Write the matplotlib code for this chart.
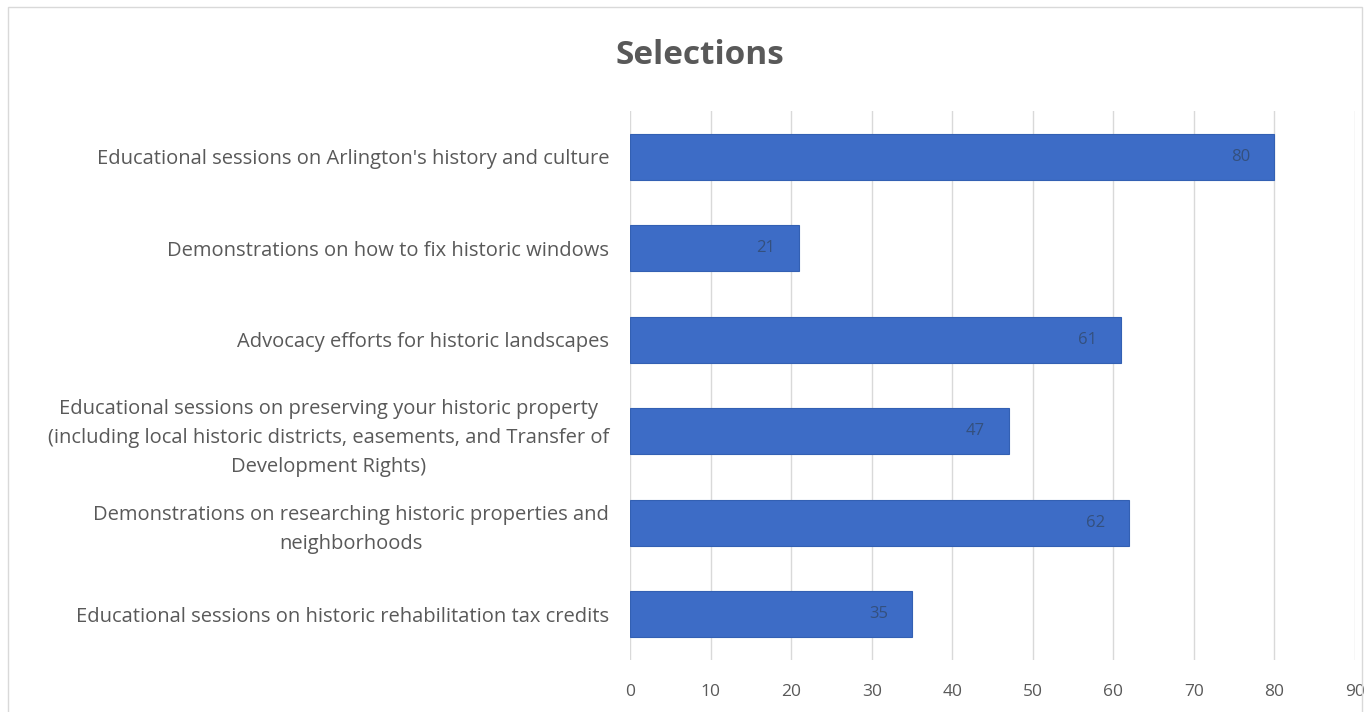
import matplotlib
matplotlib.use("Agg")
import matplotlib.pyplot as plt
from matplotlib.patches import Rectangle

categories = [
    "Educational sessions on Arlington's history and culture",
    "Demonstrations on how to fix historic windows",
    "Advocacy efforts for historic landscapes",
    "Educational sessions on preserving your historic property\n(including local historic districts, easements, and Transfer of\nDevelopment Rights)",
    "Demonstrations on researching historic properties and\nneighborhoods",
    "Educational sessions on historic rehabilitation tax credits",
]
values = [80, 21, 61, 47, 62, 35]
xticks = list(range(0, 100, 10))

plt.rcParams['font.family'] = ['Open Sans', 'DejaVu Sans']
TEXT = "#595959"

fig = plt.figure(figsize=(13.67, 7.12), dpi=100)
ax = fig.add_axes([0.461, 0.073, 0.530, 0.771])

ypos = list(range(len(categories)))
bars = ax.barh(ypos, values, height=0.5, color="#3D6CC6", edgecolor="#3360B3", linewidth=0.8, zorder=3)
ax.set_ylim(len(categories) - 0.5, -0.5)
ax.set_xlim(0, 90)
ax.set_xticks(xticks)
ax.set_yticks(ypos)
ax.set_yticklabels(categories, fontsize=14.5, color=TEXT, multialignment="center", linespacing=1.6)
ax.tick_params(axis="y", length=0, pad=15)
ax.tick_params(axis="x", length=0, pad=17, labelsize=12.5, labelcolor=TEXT)
ax.grid(axis="x", color="#D9D9D9", linewidth=1, zorder=0)
for s in ax.spines.values():
    s.set_visible(False)

for b, v in zip(bars, values):
    ax.text(v - 3, b.get_y() + b.get_height() / 2, str(v), ha="right", va="center",
            fontsize=12, color="#34507E", zorder=4)

fig.text(0.512, 0.922, "Selections", ha="center", va="center", fontsize=24,
         fontweight="bold", color=TEXT)
fig.patches.append(Rectangle((0.006, -0.01), 0.99, 1.0, transform=fig.transFigure,
                             fill=False, edgecolor="#D9D9D9", linewidth=1))

fig.savefig("out.png", dpi=100)
